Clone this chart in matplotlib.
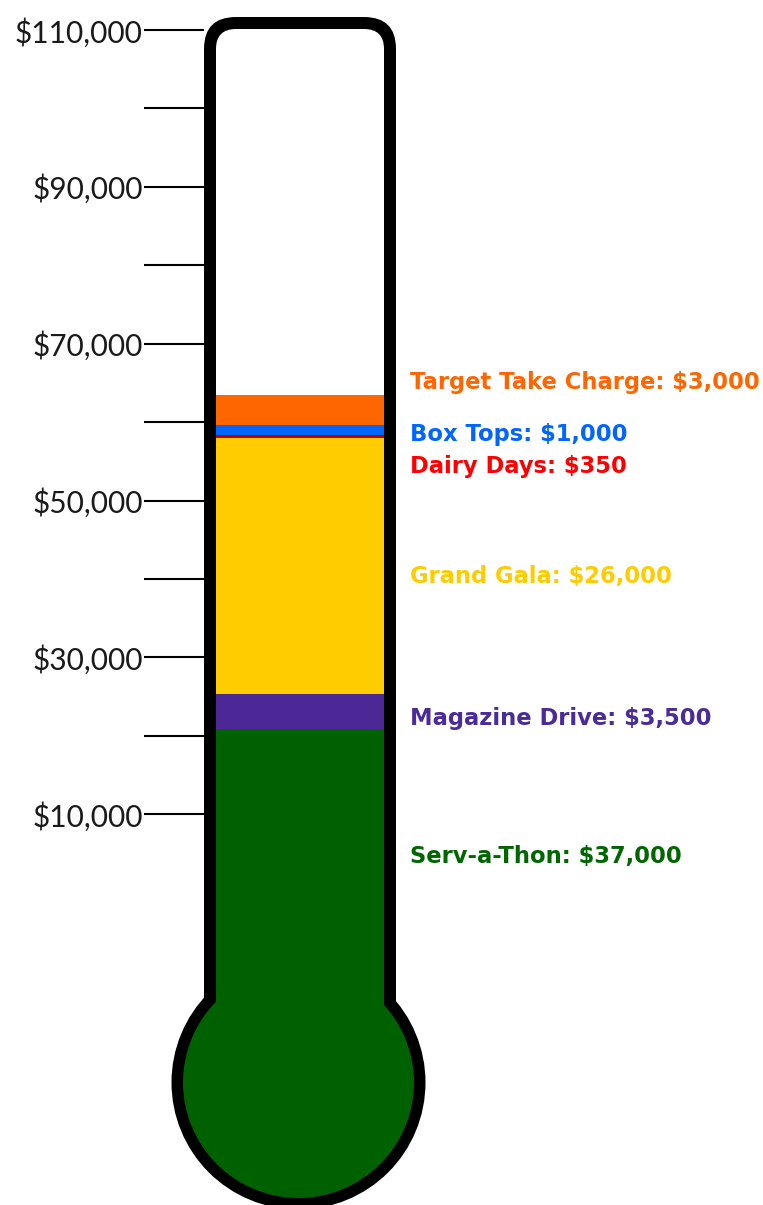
import matplotlib
matplotlib.use("Agg")
import matplotlib.pyplot as plt
from matplotlib.patches import FancyBboxPatch, Circle
from matplotlib.ticker import FuncFormatter, FixedLocator
import numpy as np

# ---- data ----
categories = ["Serv-a-Thon", "Magazine Drive", "Grand Gala", "Dairy Days", "Box Tops", "Target Take Charge"]
amounts = [37000, 3500, 26000, 350, 1000, 3000]
bar_colors = ["#006100", "#4B2896", "#FFCC00", "#C00000", "#0066FF", "#FF6600"]
label_colors = ["#006600", "#4B2A9A", "#FFCC00", "#FF0000", "#0066FF", "#FF6600"]
major_ticks = [10000, 30000, 50000, 70000, 90000, 110000]
minor_ticks = [20000, 40000, 60000, 80000, 100000]

# ---- layout (pixels) ----
W, H = 763, 1205
label_y_px = [857, 719, 576, 466, 434, 382]

fig = plt.figure(figsize=(W / 100, H / 100), dpi=100)
fig.patch.set_facecolor("white")

# decoration: thermometer outline
deco = fig.add_axes([0, 0, 1, 1])
deco.set_xlim(0, W)
deco.set_ylim(H, 0)
deco.axis("off")
cx, cy = 298.5, 1082.5
deco.add_patch(FancyBboxPatch((204, 17), 192, 1063, boxstyle="round,pad=0,rounding_size=32",
                              fc="black", ec="none"))
deco.add_patch(Circle((cx, cy), 127, fc="black", ec="none"))
deco.add_patch(FancyBboxPatch((216, 29), 168, 990, boxstyle="round,pad=0,rounding_size=20",
                              fc="white", ec="none"))
deco.add_patch(Circle((cx, cy), 115.5, fc=bar_colors[0], ec="none"))

# bars axis: 0 at px 1093, 0.009847 px per $
px_per = 0.009847
zero_px = 1093.0
ylo = (zero_px - H) / px_per
yhi = zero_px / px_per
bax = fig.add_axes([216 / W, 0, 168 / W, 1])
bax.set_xlim(-0.5, 0.5)
bax.set_ylim(ylo, yhi)
bax.axis("off")
bottoms = np.concatenate([[0], np.cumsum(amounts)[:-1]])
bax.bar([0] * len(amounts), amounts, bottom=bottoms, width=1.0, color=bar_colors,
        linewidth=0)

# scale axis on the left
sp_per = 0.007843
szero = 892.7
tax = fig.add_axes([204 / W, 0, 0.001, 1])
tax.set_ylim((szero - H) / sp_per, szero / sp_per)
for s in tax.spines.values():
    s.set_visible(False)
tax.set_xticks([])
tax.patch.set_alpha(0)
tax.yaxis.set_major_locator(FixedLocator(major_ticks))
tax.yaxis.set_minor_locator(FixedLocator(minor_ticks))
tax.yaxis.set_major_formatter(FuncFormatter(lambda v, p: "${:,.0f}".format(v)))
tax.tick_params(axis="y", which="both", length=43.2, width=1.5, direction="out", color="black")
tax.tick_params(axis="y", which="major", pad=1, labelsize=21.5)
for lab in tax.get_yticklabels():
    lab.set_fontfamily("Lato")
    lab.set_fontweight("normal")
    lab.set_color("#1a1a1a")

# category labels
for name, amt, col, ypx in zip(categories, amounts, label_colors, label_y_px):
    fig.text(410 / W, 1 - ypx / H, "{}: ${:,.0f}".format(name, amt), color=col,
             fontsize=16.3, fontweight="bold", family="DejaVu Sans", ha="left", va="center")

fig.savefig("out.png", dpi=100, facecolor="white")
